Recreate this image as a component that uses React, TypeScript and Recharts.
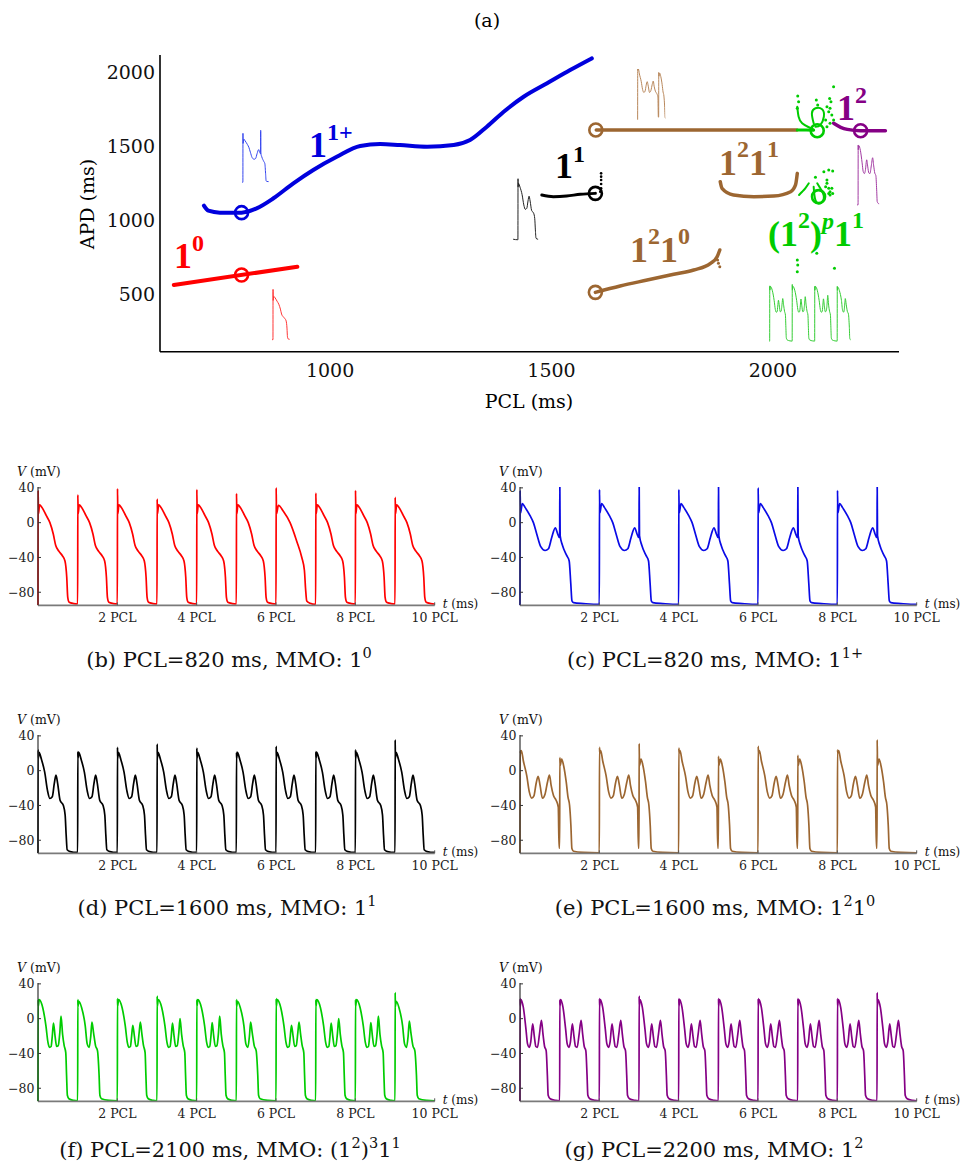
import React from 'react';
import { ComposedChart, LineChart, Line, Scatter, XAxis, YAxis } from 'recharts';

const SERIF = '"DejaVu Serif", serif';
const BOLD = '"Liberation Serif", serif';

const RED = '#ff0000';
const BLUE = '#0000dd';
const BROWN = '#9c6631';
const GREEN = '#00cc00';
const PURPLE = '#850085';

// ---------------- (a) APD vs PCL ----------------
const A_X_TICKS = [1000, 1500, 2000];
const A_Y_TICKS = [500, 1000, 1500, 2000];
const A_X_DOMAIN = [615.8, 2284.7];
const A_Y_DOMAIN = [110.7, 2112.7];

const RED_PCL = [647, 926];
const RED_APD = [561, 684];
const BLUE_PCL = [715, 725, 751, 800, 834, 872, 917, 962, 1015, 1068, 1113, 1158, 1219, 1279, 1316, 1354, 1392, 1437, 1490, 1542, 1591];
const BLUE_APD = [1096, 1062, 1049, 1049, 1078, 1146, 1247, 1337, 1426, 1499, 1512, 1505, 1494, 1505, 1539, 1629, 1730, 1831, 1922, 2011, 2090];
const BLACK_PCL = [1478, 1504, 1534, 1565, 1599];
const BLACK_APD = [1168, 1157, 1161, 1173, 1179];
const BROWN_TOP_PCL = [1601, 1760, 1880, 2054];
const BROWN_TOP_APD = [1607, 1607, 1607, 1607];
const BROWN_MID_PCL = [1881, 1885, 1911, 1957, 2002, 2040, 2051, 2055];
const BROWN_MID_APD = [1258, 1213, 1168, 1157, 1161, 1190, 1236, 1314];
const BROWN_LOW_PCL = [1599, 1655, 1716, 1776, 1821, 1859, 1874, 1880];
const BROWN_LOW_APD = [511, 554, 594, 633, 662, 707, 752, 797];
const PURPLE_PCL = [2137, 2153, 2168, 2198, 2254];
const PURPLE_APD = [1652, 1625, 1611, 1602, 1602];
const GREEN_LINE_PCL = [2055, 2075, 2092];
const GREEN_LINE_APD = [1607, 1607, 1605];
const GREEN_ARC_PCL = [2055, 2058, 2066, 2081, 2092];
const GREEN_ARC_APD = [1764, 1696, 1652, 1625, 1611];
const GREEN_LOOP_PCL = [2092, 2088, 2096, 2111, 2115, 2107, 2096];
const GREEN_LOOP_APD = [1652, 1719, 1753, 1746, 1696, 1640, 1629];
const GREEN_LOW_PCL = [2059, 2066, 2073, 2081];
const GREEN_LOW_APD = [1168, 1190, 1213, 1247];
const GREEN_LOWLOOP_PCL = [2092, 2096, 2107, 2115, 2107, 2100];
const GREEN_LOWLOOP_APD = [1224, 1134, 1112, 1157, 1213, 1247];
const GREEN_DOT_PCL = [2056, 2058, 2055, 2098, 2101, 2128, 2131, 2137, 2122, 2129, 2126, 2133, 2119, 2137, 2129, 2122,
  2119, 2122, 2126, 2129, 2133, 2126, 2122, 2129, 2135, 2115, 2126, 2135, 2096, 2055, 2056, 2055, 2099, 2139];
const GREEN_DOT_APD = [1836, 1798, 1753, 1809, 1775, 1820, 1798, 1899, 1764, 1753, 1730, 1708, 1674, 1674, 1652, 1629,
  1224, 1247, 1213, 1190, 1213, 1179, 1269, 1168, 1179, 1325, 1336, 1330, 1287, 729, 696, 650, 775, 673];
const BLACK_DOT_PCL = [1612, 1612, 1612, 1612, 1612, 1610];
const BLACK_DOT_APD = [1314, 1292, 1269, 1242, 1213, 1190];
const BROWN_DOT_PCL = [1875, 1877, 1880];
const BROWN_DOT_APD = [729, 707, 684];

const RING_RED = { pcl: [800], apd: [628] };
const RING_BLUE = { pcl: [800], apd: [1049] };
const RING_BLACK = { pcl: [1599], apd: [1179] };
const RING_BROWN = { pcl: [1600, 1599], apd: [1607, 511] };
const RING_GREEN = { pcl: [2100, 2103], apd: [1602, 1157] };
const RING_PURPLE = { pcl: [2198], apd: [1602] };

const zip = (xs: number[], ys: number[]) => xs.map((x, i) => ({ x, y: ys[i] }));

// ---------------- voltage traces (t in PCL, V in mV) ----------------
type Pt = [number, number | string];

const B_BEAT: Pt[] = [[0.012, 10], [0.04, 20.5], [0.10, 17.5], [0.21, 8], [0.30, 0], [0.385, -13], [0.445, -26], [0.53, -33], [0.615, -38], [0.68, -44], [0.725, -63], [0.75, -86], [0.785, -91.5], [0.9, -93], [0.99, -93.5]];
const B_BEAT_LONG: Pt[] = [[0.012, 10], [0.06, 20], [0.185, 13], [0.354, 0], [0.52, -21], [0.65, -40], [0.716, -55], [0.745, -76], [0.775, -90], [0.86, -92.6], [0.99, -94]];
const B_KIND = [0, 0, 0, 0, 0, 0, 1, 0, 0, 0];
const B_SPIKE = [37, 32, 39, 27, 38, 33.5, 40, 34, 37, 29];

const C_FIRST: Pt[] = [[0.012, 11], [0.059, 22], [0.127, 17.6], [0.253, 8], [0.338, 0], [0.422, -13], [0.523, -27.6], [0.633, -32], [0.717, -30], [0.80, -17], [0.89, -6], [0.95, -13], [0.99, -17]];
const C_SECOND: Pt[] = [[0.012, -15], [0.07, -26], [0.18, -38], [0.24, -44], [0.28, -70], [0.31, -90], [0.35, -92], [0.6, -93], [0.99, -94]];
const C_KIND = [0, 1, 0, 1, 0, 1, 0, 1, 0, 1];
const C_SPIKE = [37, 46, 38, 46, 38, 46, 40, 46, 37, 46];

const D_BEAT: Pt[] = [[0.008, 14], [0.025, 21], [0.085, 13.3], [0.17, -2], [0.24, -23], [0.30, -32], [0.36, -30], [0.41, -15], [0.453, -5], [0.496, -15], [0.556, -34], [0.64, -40], [0.684, -51], [0.71, -74], [0.735, -91], [0.81, -93], [0.99, -94]];
const D_KIND = [0, 0, 0, 0, 0, 0, 0, 0, 0, 0];
const D_SPIKE = [24, 22, 26.7, 30.5, 26, 21, 28, 22, 24, 35.4];

const E_FIRST: Pt[] = [[0.012, 20], [0.035, 23], [0.084, 11.4], [0.17, -5.7], [0.236, -24.7], [0.295, -31.6], [0.354, -28.6], [0.405, -15], [0.456, -6.5], [0.506, -17], [0.565, -31.6], [0.633, -26.7], [0.692, -13.3], [0.743, -5], [0.785, -17], [0.844, -28.6], [0.91, -34], [0.965, -42], [0.985, -89]];
const E_SECOND: Pt[] = [[0.012, 6], [0.05, 13.3], [0.10, 5.7], [0.165, -13], [0.21, -30.5], [0.25, -40], [0.283, -63], [0.308, -89.5], [0.35, -92.6], [0.6, -94], [0.99, -94.5]];
const E_KIND = [0, 1, 0, 1, 0, 1, 0, 1, 0, 1];
const E_SPIKE = [23, 15, 26.7, 31, 26, 16.4, 28, 17.5, 24, 35.4];

const F_TWO: Pt[] = [[0.008, 14], [0.03, 22], [0.12, 12.6], [0.2, -8.4], [0.25, -27], [0.29, -33], [0.33, -32], [0.36, -20], [0.39, 'P1'], [0.43, -20], [0.47, -32], [0.51, -31], [0.55, -16], [0.58, 'P2'], [0.62, -18], [0.66, -31], [0.70, -39], [0.72, -65], [0.74, -88], [0.78, -92], [0.9, -94], [0.99, -94.5]];
const F_ONE: Pt[] = [[0.008, 14], [0.03, 20], [0.1, 12.6], [0.19, -8], [0.24, -29], [0.29, -33], [0.33, -20], [0.36, 'P1'], [0.40, -16], [0.45, -31], [0.50, -37], [0.54, -65], [0.56, -88], [0.6, -92], [0.8, -94], [0.99, -94.5]];
const F_KIND = [0, 1, 0, 0, 0, 1, 0, 0, 0, 1];
const F_SPIKE = [22, 22, 23, 26, 22, 22, 23, 22, 22, 30];
const F_PEAK1 = [-5, -4, -7.6, -5, -4.6, -4, -7.6, -5, -4.6, -2.7];
const F_PEAK2 = [3, 0, -4, 0, 3, 0, -4, 0, 3, 0];

const G_TWO: Pt[] = [[0.008, 14], [0.025, 22], [0.085, 12.6], [0.15, -12], [0.19, -29], [0.235, -33], [0.27, -27], [0.32, -6], [0.36, -20], [0.40, -32], [0.44, -33], [0.49, -18], [0.54, -2], [0.58, -18], [0.62, -32], [0.66, -37], [0.69, -65], [0.71, -88], [0.76, -92], [0.9, -94], [0.99, -94.5]];
const G_KIND = [0, 0, 0, 0, 0, 0, 0, 0, 0, 0];
const G_SPIKE = [23, 22, 23, 26, 23, 23, 23, 23, 23, 30];

function buildTrace(kinds: number[], spikes: number[], shapes: Pt[][], p1?: number[], p2?: number[]) {
  const pts: { t: number; v: number }[] = [{ t: 0, v: -95 }];
  let last = -95;
  kinds.forEach((k, i) => {
    if (i > 0) pts.push({ t: i, v: last });
    pts.push({ t: i + 0.004, v: spikes[i] });
    shapes[k].forEach(([dt, val]) => {
      const v = val === 'P1' ? (p1 as number[])[i] : val === 'P2' ? (p2 as number[])[i] : (val as number);
      pts.push({ t: i + dt, v });
      last = v;
    });
  });
  pts.push({ t: 10, v: last });
  return pts;
}

const TRACE_B = buildTrace(B_KIND, B_SPIKE, [B_BEAT, B_BEAT_LONG]);
const TRACE_C = buildTrace(C_KIND, C_SPIKE, [C_FIRST, C_SECOND]);
const TRACE_D = buildTrace(D_KIND, D_SPIKE, [D_BEAT]);
const TRACE_E = buildTrace(E_KIND, E_SPIKE, [E_FIRST, E_SECOND]);
const TRACE_F = buildTrace(F_KIND, F_SPIKE, [F_TWO, F_ONE], F_PEAK1, F_PEAK2);
const TRACE_G = buildTrace(G_KIND, G_SPIKE, [G_TWO]);

const P_X_TICKS = [2, 4, 6, 8, 10];
const P_Y_TICKS = [40, 0, -40, -80];

// ---------------- components ----------------
const dotShape = (color: string, r: number) => (p: any) => <circle cx={p.cx} cy={p.cy} r={r} fill={color} />;
const ringShape = (color: string) => (p: any) => (
  <circle cx={p.cx} cy={p.cy} r={6.5} fill="none" stroke={color} strokeWidth={2.6} />
);

function TopChart() {
  const W = 966, H = 420;
  const YW = 60, XH = 30;
  const m = { top: 55, right: 67, bottom: 68.3 - XH, left: 160 - YW };
  const line = (key: string, data: any[], color: string, w: number, type: any = 'monotone') => (
    <Line key={key} data={data} dataKey="y" type={type} stroke={color} strokeWidth={w} dot={false}
      isAnimationActive={false} strokeLinecap="round" />
  );
  const rings = (key: string, r: { pcl: number[]; apd: number[] }, color: string) => (
    <Scatter key={key} data={zip(r.pcl, r.apd)} dataKey="y" shape={ringShape(color)} isAnimationActive={false} />
  );
  return (
    <div style={{ position: 'absolute', left: 0, top: 0 }}>
      <ComposedChart width={W} height={H} margin={m}>
        <XAxis type="number" dataKey="x" domain={A_X_DOMAIN} ticks={A_X_TICKS} height={XH} tickLine={false}
          axisLine={{ stroke: '#000', strokeWidth: 1.6 }}
          tick={(p: any) => (
            <text x={p.x} y={377} textAnchor="middle" fontFamily={SERIF} fontSize={19} fill="#111">{p.payload.value}</text>
          )} />
        <YAxis type="number" dataKey="y" domain={A_Y_DOMAIN} ticks={A_Y_TICKS} width={YW} tickLine={false}
          axisLine={{ stroke: '#000', strokeWidth: 1.6 }}
          tick={(p: any) => (
            <text x={155} y={p.y + 7} textAnchor="end" fontFamily={SERIF} fontSize={19} fill="#111">{p.payload.value}</text>
          )} />
        {line('red', zip(RED_PCL, RED_APD), RED, 4, 'linear')}
        {line('blue', zip(BLUE_PCL, BLUE_APD), BLUE, 4)}
        {line('black', zip(BLACK_PCL, BLACK_APD), '#000', 3)}
        {line('browntop', zip(BROWN_TOP_PCL, BROWN_TOP_APD), BROWN, 3.5, 'linear')}
        {line('brownmid', zip(BROWN_MID_PCL, BROWN_MID_APD), BROWN, 3.5)}
        {line('brownlow', zip(BROWN_LOW_PCL, BROWN_LOW_APD), BROWN, 3.5)}
        {line('greenline', zip(GREEN_LINE_PCL, GREEN_LINE_APD), GREEN, 3, 'linear')}
        {line('greenarc', zip(GREEN_ARC_PCL, GREEN_ARC_APD), GREEN, 2, 'natural')}
        {line('greenloop', zip(GREEN_LOOP_PCL, GREEN_LOOP_APD), GREEN, 2, 'natural')}
        {line('greenlow', zip(GREEN_LOW_PCL, GREEN_LOW_APD), GREEN, 2, 'natural')}
        {line('greenlowloop', zip(GREEN_LOWLOOP_PCL, GREEN_LOWLOOP_APD), GREEN, 2, 'natural')}
        {line('purple', zip(PURPLE_PCL, PURPLE_APD), PURPLE, 3.5)}
        <Scatter data={zip(GREEN_DOT_PCL, GREEN_DOT_APD)} dataKey="y" shape={dotShape(GREEN, 1.5)} isAnimationActive={false} />
        <Scatter data={zip(BLACK_DOT_PCL, BLACK_DOT_APD)} dataKey="y" shape={dotShape('#000', 1.3)} isAnimationActive={false} />
        <Scatter data={zip(BROWN_DOT_PCL, BROWN_DOT_APD)} dataKey="y" shape={dotShape(BROWN, 1.5)} isAnimationActive={false} />
        {rings('rr', RING_RED, RED)}
        {rings('rb', RING_BLUE, BLUE)}
        {rings('rk', RING_BLACK, '#000')}
        {rings('rn', RING_BROWN, BROWN)}
        {rings('rg', RING_GREEN, GREEN)}
        {rings('rp', RING_PURPLE, PURPLE)}
      </ComposedChart>
    </div>
  );
}

const INSETS = [
  { key: 'ib', data: TRACE_C, t0: 1.95, t1: 3.45, vlo: -98, vhi: 47, left: 242.4, top: 130.1, w: 26.6, h: 53.7, color: '#3344ee' },
  { key: 'ir', data: TRACE_B, t0: 1.95, t1: 2.86, vlo: -98, vhi: 40, left: 272.3, top: 288.7, w: 17.6, h: 52.4, color: '#ff3333' },
  { key: 'ik', data: TRACE_D, t0: 2.8, t1: 3.82, vlo: -98, vhi: 32, left: 513.3, top: 177.8, w: 25.1, h: 63.7, color: '#222' },
  { key: 'in', data: TRACE_E, t0: -0.03, t1: 1.32, vlo: -98, vhi: 30, left: 636.7, top: 66.3, w: 28.4, h: 55, color: '#b8875a' },
  { key: 'ip', data: TRACE_G, t0: 1.96, t1: 2.78, vlo: -98, vhi: 25, left: 856.6, top: 143.8, w: 22.1, h: 62.7, color: '#a23aa2' },
  { key: 'ig', data: TRACE_F, t0: 1.97, t1: 5.6, vlo: -98, vhi: 27, left: 768.6, top: 284.4, w: 81.7, h: 58.75, color: '#33cc33' },
];

function Inset(p: any) {
  return (
    <div style={{ position: 'absolute', left: p.left - 2, top: p.top - 2 }}>
      <LineChart width={p.w + 4} height={p.h + 4} data={p.data} margin={{ top: 2, right: 2, bottom: 2, left: 2 }}>
        <XAxis type="number" dataKey="t" domain={[p.t0, p.t1]} hide allowDataOverflow />
        <YAxis type="number" domain={[p.vlo, p.vhi]} hide allowDataOverflow />
        <Line dataKey="v" type="monotone" stroke={p.color} strokeWidth={1} dot={false} isAnimationActive={false} />
      </LineChart>
    </div>
  );
}

function TopLabels() {
  const big = 36, sup = 24;
  const base = { fontFamily: BOLD, fontWeight: 700 as const, fontSize: big };
  return (
    <svg width={966} height={420} style={{ position: 'absolute', left: 0, top: 0, pointerEvents: 'none' }}>
      <text x={487} y={27} textAnchor="middle" fontFamily={SERIF} fontSize={19}>(a)</text>
      <text x={529} y={408} textAnchor="middle" fontFamily={SERIF} fontSize={19}>PCL (ms)</text>
      <text transform="translate(94,204) rotate(-90)" textAnchor="middle" fontFamily={SERIF} fontSize={19}>APD (ms)</text>
      <text x={174} y={268} fill={RED} {...base}>1<tspan dy={-17} fontSize={sup}>0</tspan></text>
      <text x={309} y={157} fill={BLUE} {...base}>1<tspan dy={-17} fontSize={sup}>1+</tspan></text>
      <text x={555} y={178} fill="#000" {...base}>1<tspan dy={-16} fontSize={sup}>1</tspan></text>
      <text x={719} y={175} fill={BROWN} {...base}>1<tspan dy={-18} fontSize={sup}>2</tspan><tspan dy={18}>1</tspan><tspan dy={-18} fontSize={sup}>1</tspan></text>
      <text x={630} y={262} fill={BROWN} {...base}>1<tspan dy={-18} fontSize={sup}>2</tspan><tspan dy={18}>1</tspan><tspan dy={-18} fontSize={sup}>0</tspan></text>
      <text x={768} y={246} fill={GREEN} {...base}>(1<tspan dy={-18} fontSize={sup}>2</tspan><tspan dy={18}>)</tspan><tspan dy={-17} fontSize={sup} fontStyle="italic">p</tspan><tspan dy={17}>1</tspan><tspan dy={-18} fontSize={sup}>1</tspan></text>
      <text x={837} y={120} fill={PURPLE} {...base}>1<tspan dy={-17} fontSize={sup}>2</tspan></text>
    </svg>
  );
}

const PANELS = [
  { key: 'b', ox: 0, y40: 488.3, axisX: 38, data: TRACE_B, color: RED, capX: 229, capY: 660, cap: [['(b) PCL=820 ms, MMO: 1', 0], ['0', 1]] },
  { key: 'c', ox: 480, y40: 488.3, axisX: 40, data: TRACE_C, color: '#0a0ae6', capX: 235, capY: 660, cap: [['(c) PCL=820 ms, MMO: 1', 0], ['1+', 1]] },
  { key: 'd', ox: 0, y40: 736, axisX: 38, data: TRACE_D, color: '#000', capX: 227, capY: 908, cap: [['(d) PCL=1600 ms, MMO: 1', 0], ['1', 1]] },
  { key: 'e', ox: 480, y40: 736, axisX: 40, data: TRACE_E, color: BROWN, capX: 235, capY: 908, cap: [['(e) PCL=1600 ms, MMO: 1', 0], ['2', 1], ['1', 0], ['0', 1]] },
  { key: 'f', ox: 0, y40: 984.3, axisX: 38, data: TRACE_F, color: GREEN, capX: 230, capY: 1150, cap: [['(f) PCL=2100 ms, MMO: (1', 0], ['2', 1], [')', 0], ['3', 1], ['1', 0], ['1', 1]] },
  { key: 'g', ox: 480, y40: 984.3, axisX: 40, data: TRACE_G, color: PURPLE, capX: 234, capY: 1150, cap: [['(g) PCL=2200 ms, MMO: 1', 0], ['2', 1]] },
];

const fmtV = (v: number) => (v < 0 ? '\u2212' + Math.abs(v) : String(v));

function Panel(p: any) {
  const plotW = 396.7, plotH = 118.3, top = 32;
  const YW = 30, XH = 20;
  const oy = p.y40 - 32.87;
  const axisY = top + plotH;
  const ax = p.axisX;
  return (
    <div style={{ position: 'absolute', left: p.ox, top: oy, width: 480, height: 240 }}>
      <LineChart width={480} height={180} data={p.data}
        margin={{ top, left: ax - YW, right: 480 - ax - plotW, bottom: 180 - top - plotH - XH }}>
        <XAxis type="number" dataKey="t" domain={[0, 10]} ticks={P_X_TICKS} height={XH} tickLine={false}
          axisLine={{ stroke: '#7a7a7a', strokeWidth: 1.8 }}
          tick={(t: any) => (
            <g>
              <line x1={t.x} x2={t.x} y1={axisY} y2={axisY - 3} stroke="#555" strokeWidth={1} />
              <text x={t.x} y={axisY + 17} textAnchor="middle" fontFamily={SERIF} fontSize={12.5} fill="#222">{t.payload.value} PCL</text>
            </g>
          )} />
        <YAxis type="number" domain={[-95, 41]} ticks={P_Y_TICKS} width={YW} allowDataOverflow tickLine={false}
          axisLine={{ stroke: '#333', strokeWidth: 1.2 }}
          tick={(t: any) => (
            <g>
              <line x1={ax} x2={ax + 3} y1={t.y} y2={t.y} stroke="#333" strokeWidth={1} />
              <text x={ax - 3.5} y={t.y + 4.5} textAnchor="end" fontFamily={SERIF} fontSize={12.5} fill="#222">{fmtV(t.payload.value)}</text>
            </g>
          )} />
        <Line dataKey="v" type="monotone" stroke={p.color} strokeWidth={1.7} dot={false} isAnimationActive={false} />
      </LineChart>
      <svg width={480} height={180} style={{ position: 'absolute', left: 0, top: 0, pointerEvents: 'none' }}>
        <text x={ax - 21} y={top - 11} fontFamily={SERIF} fontSize={12.5} fill="#111"><tspan fontStyle="italic">V</tspan> (mV)</text>
        <text x={ax + plotW + 8} y={axisY + 3} fontFamily={SERIF} fontSize={12} fill="#111"><tspan fontStyle="italic">t</tspan> (ms)</text>
      </svg>
      <div style={{
        position: 'absolute', left: p.capX - 240, width: 480, top: p.capY - oy - 13, height: 26,
        textAlign: 'center', fontFamily: SERIF, fontSize: 21, lineHeight: '26px', color: '#111', whiteSpace: 'nowrap',
      }}>
        {p.cap.map((s: any, i: number) =>
          s[1] ? <sup key={i} style={{ fontSize: 14.5, lineHeight: 0, verticalAlign: 'baseline', position: 'relative', top: -8.5 }}>{s[0]}</sup>
            : <span key={i}>{s[0]}</span>)}
      </div>
    </div>
  );
}

export default function App() {
  return (
    <div style={{ position: 'absolute', left: 0, top: 0, width: 966, height: 1168, background: '#fff', overflow: 'hidden' }}>
      <TopChart />
      {INSETS.map((s) => <Inset {...s} />)}
      <TopLabels />
      {PANELS.map((s) => <Panel {...s} />)}
    </div>
  );
}
